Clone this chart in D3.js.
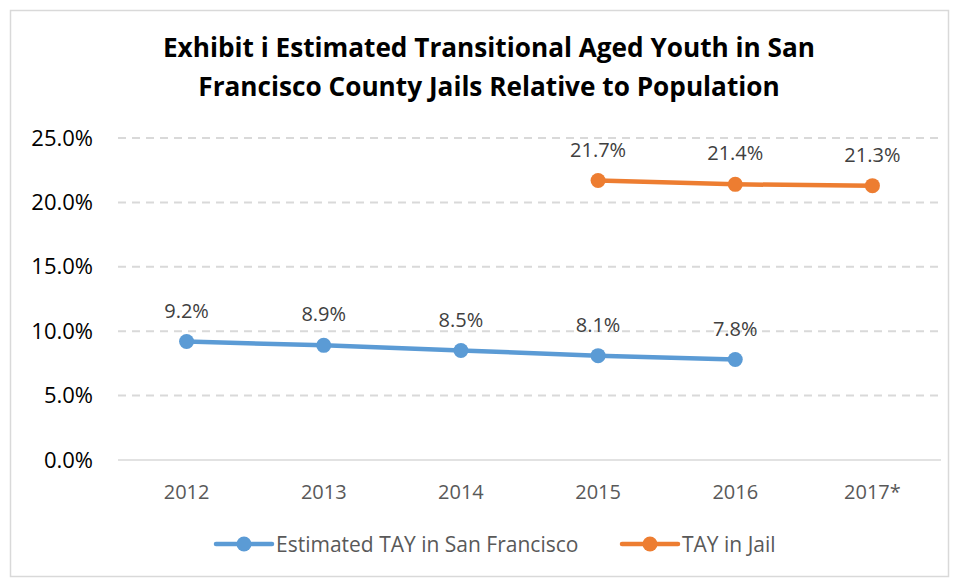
<!DOCTYPE html>
<html><head><meta charset="utf-8">
<script src="https://cdn.jsdelivr.net/npm/d3@7"></script>
<style>
body{margin:0;background:#fff;}
text{font-family:"Open Sans",sans-serif;}
</style></head>
<body>
<svg id="c" width="956" height="578"></svg>
<script>
const categories = ["2012","2013","2014","2015","2016","2017*"];
const sfValues = [9.2, 8.9, 8.5, 8.1, 7.8, null];
const jailValues = [null, null, null, 21.7, 21.4, 21.3];
const yTicks = [0,5,10,15,20,25];
const seriesNames = ["Estimated TAY in San Francisco","TAY in Jail"];
const colors = ["#5B9BD5","#ED7D31"];
const titleLines = ["Exhibit i Estimated Transitional Aged Youth in San","Francisco County Jails Relative to Population"];

const svg = d3.select("#c");
svg.append("rect").attr("x",10.5).attr("y",10.5).attr("width",938).attr("height",566)
  .attr("fill","#fff").attr("stroke","#d9d9d9").attr("stroke-width",1.5);

const x = d3.scaleBand().domain(categories).range([118,941]);
const y = d3.scaleLinear().domain([0,25]).range([460,138]);

// title
svg.selectAll(".title").data(titleLines).join("text")
  .attr("x",489).attr("y",(d,i)=>57+i*39).attr("text-anchor","middle")
  .attr("font-size",26.2).attr("font-weight","bold").attr("fill","#000")
  .text(d=>d);

// gridlines
svg.selectAll(".grid").data(yTicks.filter(t=>t>0)).join("line")
  .attr("x1",118).attr("x2",941).attr("y1",d=>y(d)).attr("y2",d=>y(d))
  .attr("stroke","#d9d9d9").attr("stroke-width",2).attr("stroke-dasharray","8,6");
svg.append("line").attr("x1",118).attr("x2",941).attr("y1",y(0)).attr("y2",y(0))
  .attr("stroke","#d9d9d9").attr("stroke-width",1.5);

// y labels
svg.selectAll(".yl").data(yTicks).join("text")
  .attr("x",93).attr("y",d=>y(d)+7.5).attr("text-anchor","end")
  .attr("font-size",22).attr("fill","#000").text(d=>d3.format(".1f")(d)+"%");

// x labels
svg.selectAll(".xl").data(categories).join("text")
  .attr("x",d=>x(d)+x.bandwidth()/2).attr("y",499).attr("text-anchor","middle")
  .attr("font-size",20).attr("fill","#595959").text(d=>d);

const series = [sfValues, jailValues];
series.forEach((vals,si)=>{
  const pts = categories.map((c,i)=>({c,v:vals[i]})).filter(d=>d.v!=null);
  const line = d3.line().x(d=>x(d.c)+x.bandwidth()/2).y(d=>y(d.v));
  svg.append("path").datum(pts).attr("d",line).attr("fill","none")
    .attr("stroke",colors[si]).attr("stroke-width",4.5).attr("stroke-linecap","round");
  svg.selectAll(".pt"+si).data(pts).join("circle")
    .attr("cx",d=>x(d.c)+x.bandwidth()/2).attr("cy",d=>y(d.v)).attr("r",7.5).attr("fill",colors[si]);
  svg.selectAll(".lb"+si).data(pts).join("text")
    .attr("x",d=>x(d.c)+x.bandwidth()/2).attr("y",d=>y(d.v)-24).attr("text-anchor","middle")
    .attr("font-size",20).attr("fill","#404040").text(d=>d.v.toFixed(1)+"%");
});

// legend
const legX = [216, 622];
seriesNames.forEach((n,i)=>{
  const g = svg.append("g");
  g.append("line").attr("x1",legX[i]).attr("x2",legX[i]+56).attr("y1",544).attr("y2",544)
    .attr("stroke",colors[i]).attr("stroke-width",4.5).attr("stroke-linecap","round");
  g.append("circle").attr("cx",legX[i]+28).attr("cy",544).attr("r",7.5).attr("fill",colors[i]);
  g.append("text").attr("x",legX[i]+60).attr("y",551.5).attr("font-size",21).attr("fill","#595959").text(n);
});
</script>
</body></html>
